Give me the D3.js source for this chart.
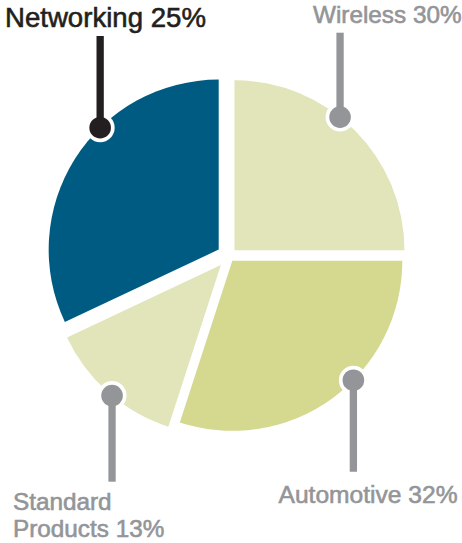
<!DOCTYPE html>
<html>
<head>
<meta charset="utf-8">
<script src="https://cdn.jsdelivr.net/npm/d3@7"></script>
<style>
  body { margin: 0; background: #fff; }
  svg { display: block; }
  text { font-family: "Liberation Sans", Arial, Helvetica, sans-serif; }
</style>
</head>
<body>
<svg id="chart"></svg>
<script>
// slices clockwise from 12 o'clock, sized as they are drawn
var segments = ["Wireless", "Automotive", "Standard Products", "Networking"];
var shares = [25, 30, 13, 32];
// percentages printed in the callouts
var labelPct = [30, 32, 13, 25];
var labelLines = [
  ["Wireless " + labelPct[0] + "%"],
  ["Automotive " + labelPct[1] + "%"],
  ["Standard", "Products " + labelPct[2] + "%"],
  ["Networking " + labelPct[3] + "%"]
];

var screen = { width: 462, height: 543 };
var center = { x: 228.8, y: 256 };
var radius = 170;

// layout per slice (same order as segments)
var layout = [
  { fill: "#e1e5b9", ink: "#939598", explode: 8,  dot: 38.4,  lineEnd: 32.7,  tx: 313,   ty: 23.3,  size: 24.3 },
  { fill: "#d4d98f", ink: "#939598", explode: 6,  dot: 134.6, lineEnd: 471.7, tx: 278.5, ty: 503.3, size: 24.6 },
  { fill: "#e1e5b9", ink: "#939598", explode: 12, dot: 219.8, lineEnd: 481.7, tx: 13,    ty: 509.5, size: 24.3 },
  { fill: "#005b82", ink: "#231f20", explode: 12, dot: 315.8, lineEnd: 36,    tx: 5,     ty: 26.7,  size: 27.6 }
];

var svg = d3.select("#chart")
  .attr("width", screen.width)
  .attr("height", screen.height);

var pie = d3.pie().sort(null).value(function(d) { return d; });
var arcs = pie(shares);

var arc = d3.arc().innerRadius(0).outerRadius(radius);

var g = svg.append("g")
  .attr("transform", "translate(" + center.x + "," + center.y + ")");

// offset of each slice along its bisector
var offsets = arcs.map(function(a, i) {
  var mid = (a.startAngle + a.endAngle) / 2;
  return d3.pointRadial(mid, layout[i].explode);
});

var slices = g.selectAll("g.slice")
  .data(arcs)
  .enter()
  .append("g")
  .attr("class", "slice")
  .attr("transform", function(d, i) {
    return "translate(" + offsets[i][0] + "," + offsets[i][1] + ")";
  });

slices.append("path")
  .attr("d", arc)
  .attr("fill", function(d, i) { return layout[i].fill; });

// callout dots sit on the rim of each slice
var dots = arcs.map(function(a, i) {
  var p = d3.pointRadial(layout[i].dot * Math.PI / 180, radius);
  return [center.x + offsets[i][0] + p[0], center.y + offsets[i][1] + p[1]];
});

var callouts = svg.selectAll("g.callout")
  .data(segments)
  .enter()
  .append("g")
  .attr("class", "callout");

// white halo round each dot
callouts.append("circle")
  .attr("cx", function(d, i) { return dots[i][0]; })
  .attr("cy", function(d, i) { return dots[i][1]; })
  .attr("r", 14.5)
  .attr("fill", "#fff");

callouts.append("line")
  .attr("x1", function(d, i) { return dots[i][0]; })
  .attr("x2", function(d, i) { return dots[i][0]; })
  .attr("y1", function(d, i) { return dots[i][1]; })
  .attr("y2", function(d, i) { return layout[i].lineEnd; })
  .attr("stroke", function(d, i) { return layout[i].ink; })
  .attr("stroke-width", 7.3);

callouts.append("circle")
  .attr("cx", function(d, i) { return dots[i][0]; })
  .attr("cy", function(d, i) { return dots[i][1]; })
  .attr("r", 10.8)
  .attr("fill", function(d, i) { return layout[i].ink; });

var labels = callouts.append("text")
  .attr("x", function(d, i) { return layout[i].tx; })
  .attr("y", function(d, i) { return layout[i].ty; })
  .attr("fill", function(d, i) { return layout[i].ink; })
  .attr("stroke", function(d, i) { return layout[i].ink; })
  .attr("stroke-width", 0.6)
  .style("font-size", function(d, i) { return layout[i].size + "px"; });

labels.selectAll("tspan")
  .data(function(d, i) { return labelLines[i].map(function(t) { return { t: t, i: i }; }); })
  .enter()
  .append("tspan")
  .attr("x", function(d) { return layout[d.i].tx; })
  .attr("dy", function(d, j) { return j === 0 ? 0 : 27.5; })
  .text(function(d) { return d.t; });
</script>
</body>
</html>
